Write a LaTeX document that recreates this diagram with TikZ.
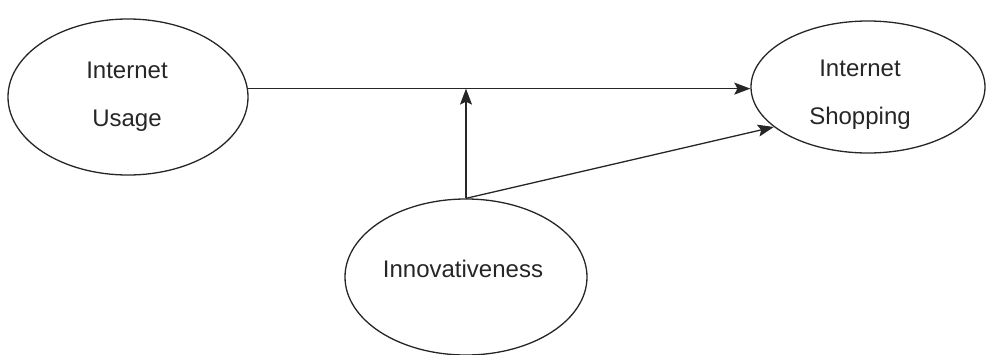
\documentclass[tikz,border=0pt]{standalone}
\usepackage{fontspec}
\setmainfont{Liberation Sans}
\usetikzlibrary{shapes.geometric,arrows.meta}
\begin{document}
\begin{tikzpicture}[x=1pt,y=-1pt,
  oval/.style={draw=black!85,line width=1.3pt,ellipse,inner sep=0pt},
  lbl/.style={font=\fontsize{24}{48}\selectfont,align=center,text=black!85},
  arr/.style={draw=black!85,line width=1.3pt,-{Stealth[length=16pt,width=12pt,inset=3pt]}}]
\useasboundingbox (0,0) rectangle (989,354);
\node[oval,minimum width=240pt,minimum height=156pt] (u) at (128,97) {};
\node[oval,minimum width=234pt,minimum height=132pt] (s) at (868,87) {};
\node[oval,minimum width=242pt,minimum height=156pt] (i) at (466,277) {};
\node[lbl] (ut) at (127,97) {Internet\\Usage};
\node[lbl] (st) at (860,95) {Internet\\Shopping};
\node[lbl] (it) at (463,269) {Innovativeness};
\coordinate (m) at (i.north |- u.4);
\draw[arr] (u.4) -- (u.4 -| s.west);
\draw[arr] (i.north) -- (m);
\draw[arr] (i.north) -- (s.203);
\end{tikzpicture}
\end{document}
